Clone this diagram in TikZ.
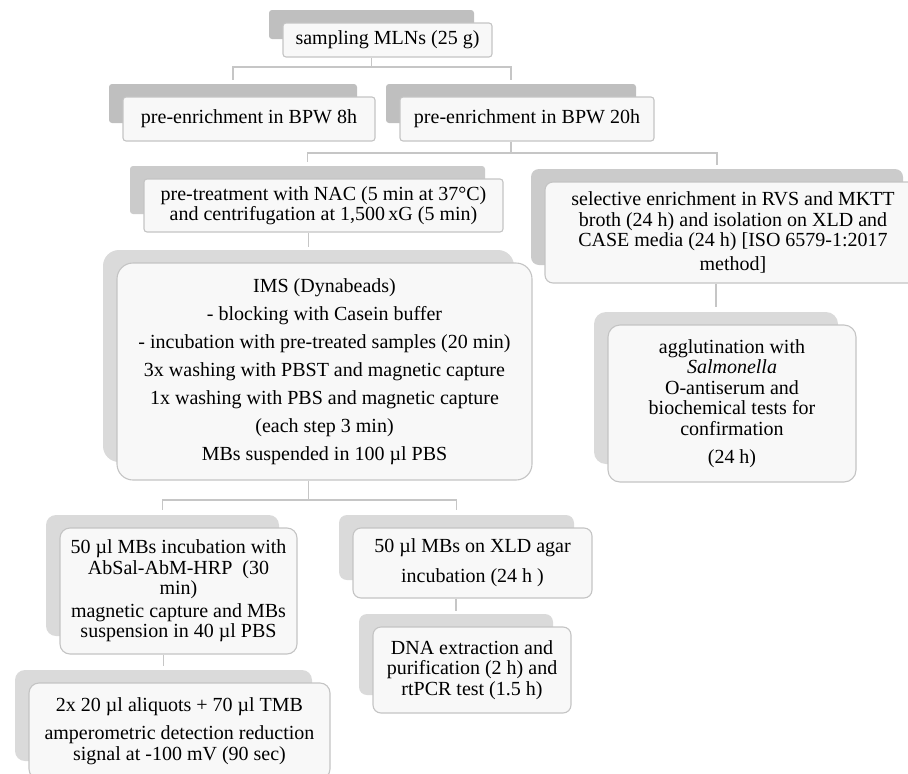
\documentclass[tikz,border=0pt]{standalone}
\usepackage{fontspec}
\setmainfont{Liberation Serif}
\usepackage{tikz}
\usetikzlibrary{calc}

\definecolor{backdark}{RGB}{191,191,191}
\definecolor{backmid}{RGB}{203,203,203}
\definecolor{backlight}{RGB}{218,218,218}
\definecolor{frontfill}{RGB}{248,248,248}
\definecolor{edgegray}{RGB}{196,196,196}
\definecolor{linkgray}{RGB}{198,198,198}

\tikzset{
  backbox/.style={inner sep=0pt},
  frontbox/.style={draw=edgegray, line width=1.1pt, fill=frontfill, inner sep=0pt, align=center},
  link/.style={draw=linkgray, line width=1.6pt},
}

% name, back colour, corner radius, centre, width, height, text
\newcommand{\flowstep}[7]{%
  \node[backbox, fill=#2, rounded corners=#3, minimum width=#5-4pt, minimum height=#6-5pt]
    (#1-bg) at ($#4+(-16,-15.5)$) {};
  \node[frontbox, rounded corners=#3, minimum width=#5, minimum height=#6] (#1) at #4 {#7};
}

\begin{document}
\begin{tikzpicture}[x=1pt, y=-1pt, font=\fontsize{20}{20.5}\selectfont]
  \useasboundingbox (0,0) rectangle (908,774);

  % first rows
  \flowstep{sampling}{backdark}{3pt}{(387.5,40)}{209pt}{34pt}{sampling MLNs (25 g)}
  \flowstep{pre8}{backdark}{3pt}{(249,119)}{252pt}{44pt}{pre-enrichment in BPW 8h}
  \flowstep{pre20}{backdark}{3pt}{(527,119)}{254pt}{44pt}{pre-enrichment in BPW 20h}

  \flowstep{pretreat}{backmid}{3pt}{(323.5,205.5)}{359pt}{53pt}
    {pre-treatment with NAC (5 min at 37°C)\\ and centrifugation at 1,500\,xG (5 min)}
  \flowstep{selective}{backmid}{8pt}{(733,232.5)}{376pt}{101pt}
    {selective enrichment in RVS and MKTT\\ broth (24 h) and isolation on XLD and\\
     CASE media (24 h) [ISO 6579-1:2017\\[3pt] method]}

  \flowstep{ims}{backlight}{16pt}{(324.5,371.5)}{415pt}{217pt}
    {IMS (Dynabeads)\\[7.5pt] - blocking with Casein buffer\\[7.5pt]
     - incubation with pre-treated samples (20 min)\\[7.5pt]
     3x washing with PBST and magnetic capture\\[7.5pt]
     1x washing with PBS and magnetic capture\\[7.5pt]
     (each step 3 min)\\[7.5pt] MBs suspended in 100 µl PBS}
  \flowstep{agglut}{backlight}{12pt}{(732,403.5)}{248pt}{157pt}
    {agglutination with\\ \textit{Salmonella}\\ O-antiserum and\\ biochemical tests for\\
     confirmation\\[8pt] (24 h)}

  % lower branches
  \flowstep{mbinc}{backlight}{10pt}{(178.5,591)}{237pt}{126pt}
    {50 µl MBs incubation with\\ AbSal-AbM-HRP~ (30\\ min)\\[2pt]
     magnetic capture and MBs\\ suspension in 40 µl PBS}
  \flowstep{detect}{backlight}{10pt}{(179.5,731)}{301pt}{96pt}
    {2x 20 µl aliquots + 70 µl TMB\\[8pt] amperometric detection reduction\\
     signal at -100 mV (90 sec)}
  \flowstep{xld}{backlight}{8pt}{(472.5,563)}{239pt}{70pt}
    {50 µl MBs on XLD agar\\[9.5pt] incubation (24 h )}
  \flowstep{dna}{backlight}{8pt}{(472,670)}{198pt}{86pt}
    {DNA extraction and\\ purification (2 h) and\\ rtPCR test (1.5 h)}

  % connectors
  \coordinate (j1) at (371.5,67);
  \coordinate (j2) at (511,153);
  \coordinate (j3) at (308.5,500);

  \draw[link] (sampling.south -| sampling-bg.center) -- (j1);
  \draw[link, shorten <=4pt, shorten >=4pt] (pre8-bg.north) |- (j1) -| (pre20-bg.north);

  \draw[link] (pre20.south -| pre20-bg.center) -- (j2);
  \draw[link, shorten <=4pt, shorten >=4pt] (pretreat-bg.north) |- (j2) -| (selective-bg.north);

  \draw[link, shorten >=3pt] (pretreat.south -| ims-bg.north) -- (ims-bg.north);
  \draw[link, shorten >=5pt] (selective.south -| agglut-bg.north) -- (agglut-bg.north);

  \draw[link] (ims.south -| j3) -- (j3);
  \draw[link, shorten <=5pt, shorten >=5pt] (mbinc-bg.north) |- (j3) -| (xld-bg.north);

  \draw[link, shorten >=4pt] (mbinc.south -| detect-bg.north) -- (detect-bg.north);
  \draw[link, shorten >=3pt] (xld.south -| dna-bg.north) -- (dna-bg.north);
\end{tikzpicture}
\end{document}
